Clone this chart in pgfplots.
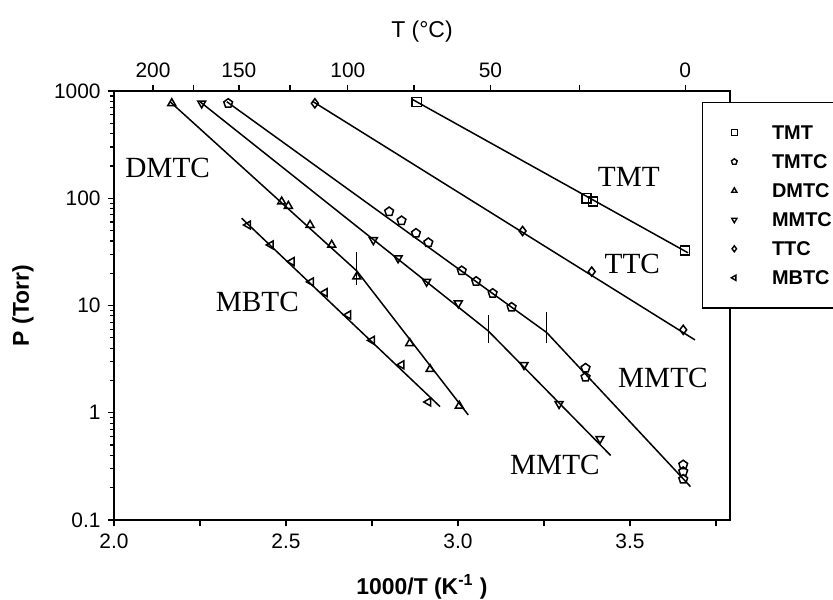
\documentclass[border=0pt]{standalone}
\usepackage{fontspec}
\setmainfont{Liberation Sans}
\newfontfamily\seriffont{Liberation Serif}
\usepackage{pgfplots}
\pgfplotsset{compat=1.18}
\usetikzlibrary{plotmarks}
\newcommand{\lbl}{\seriffont\fontsize{14.7}{15}\selectfont}
\begin{document}
\begin{tikzpicture}
\begin{axis}[
  scale only axis, width=308bp, height=214.5bp,
  xmin=2, xmax=3.791, ymin=0.1, ymax=1000, ymode=log, log basis y=10,
  axis line style={line width=0.8bp},
  every tick/.style={black, line width=0.6bp},
  tick align=outside, major tick length=3.2bp, minor tick length=2bp,
  xtick pos=left, ytick pos=left,
  xtick={2,2.25,2.5,2.75,3,3.25,3.5,3.75},
  xticklabels={2.0,,2.5,,3.0,,3.5,},
  ytick={0.1,1,10,100,1000},
  yticklabels={0.1,1,10,100,1000},
  minor ytick={0.2,0.3,0.4,0.5,0.6,0.7,0.8,0.9,2,3,4,5,6,7,8,9,20,30,40,50,60,70,80,90,200,300,400,500,600,700,800,900},
  /pgf/number format/assume math mode=true,
  ticklabel style={font=\fontsize{10.5}{12}\selectfont},
  xlabel={\textbf{1000/T (K\textsuperscript{-1} )}},
  ylabel={\textbf{P (Torr)}},
  every axis x label/.style={at={(axis description cs:0.5,-0.156)},anchor=center,font=\fontsize{11.5}{13}\selectfont},
  every axis y label/.style={at={(axis description cs:-0.148,0.5)},rotate=90,anchor=center,font=\fontsize{11.5}{13}\selectfont},
  legend style={at={(rel axis cs:0.9545,0.9744)}, anchor=north west, draw=black, fill=white, line width=0.6bp,
    inner xsep=5bp, inner ysep=11bp, row sep=6.3bp, font=\bfseries\fontsize{10}{10}\selectfont,
    nodes={inner sep=0.5bp, text height=7.2bp, text depth=0bp, anchor=west, text width=50bp},
    /tikz/every odd column/.append style={column sep=8.5bp}},
  legend cell align=left,
  legend image code/.code={\path (0bp,-1bp) (20bp,1bp); \draw[#1, line width=0.7bp, mark size=1.5bp] plot coordinates {(10.5bp,0bp)};},
  mk/.style={only marks, black, line width=0.75bp, mark size=2.3bp},
]
% data points
\addplot[mk, mark=square] coordinates {(2.880,790) (3.374,100) (3.393,93) (3.660,32.5)};
\addlegendentry{TMT}
\addplot[mk, mark=pentagon] coordinates {(2.332,768) (2.800,75.0) (2.836,61.8) (2.878,47.2) (2.914,38.6) (3.011,21.1) (3.053,16.8) (3.101,13.0) (3.156,9.64) (3.371,2.61) (3.371,2.15) (3.655,0.327) (3.655,0.283) (3.655,0.240)};
\addlegendentry{TMTC}
\addplot[mk, mark=triangle] coordinates {(2.168,768) (2.4875,92.9) (2.507,84.7) (2.570,56.3) (2.633,36.7) (2.706,18.6) (2.860,4.45) (2.919,2.55) (3.004,1.16)};
\addlegendentry{DMTC}
\addplot[mk, mark=triangle, mark options={rotate=180}] coordinates {(2.255,768) (2.754,40.8) (2.826,27.6) (2.909,16.7) (3.001,10.5) (3.192,2.79) (3.294,1.21) (3.413,0.571)};
\addlegendentry{MMTC}
\addplot[mk, mark=diamond] coordinates {(2.584,768) (3.188,49.5) (3.389,20.7) (3.655,5.93)};
\addlegendentry{TTC}
\addplot[mk, mark=triangle, mark options={rotate=90}] coordinates {(2.390,56.3) (2.456,36.7) (2.517,25.7) (2.573,16.6) (2.613,13.2) (2.681,8.17) (2.750,4.73) (2.836,2.80) (2.914,1.26)};
\addlegendentry{MBTC}
% fitted lines
\addplot[black, line width=0.75bp, forget plot] coordinates {(2.866,840) (3.669,31)};
\addplot[black, line width=0.75bp, forget plot] coordinates {(2.579,795) (3.689,4.78)};
\addplot[black, line width=0.75bp, forget plot] coordinates {(2.328,795) (3.258,5.6) (3.676,0.205)};
\addplot[black, line width=0.75bp, forget plot] coordinates {(2.250,795) (3.088,5.8) (3.444,0.40)};
\addplot[black, line width=0.75bp, forget plot] coordinates {(2.163,795) (2.706,21) (3.030,0.955)};
\addplot[black, line width=0.75bp, forget plot] coordinates {(2.371,65.2) (2.948,1.14)};
% melting point markers
\addplot[black, line width=0.6bp, forget plot] coordinates {(2.706,31.8) (2.706,15.6)};
\addplot[black, line width=0.6bp, forget plot] coordinates {(3.088,8.16) (3.088,4.48)};
\addplot[black, line width=0.6bp, forget plot] coordinates {(3.258,8.72) (3.258,4.48)};
% labels
\node[font=\lbl] at (axis cs:2.156,190) {DMTC};
\node[font=\lbl] at (axis cs:3.497,159) {TMT};
\node[font=\lbl] at (axis cs:3.507,24.4) {TTC};
\node[font=\lbl] at (axis cs:2.417,10.9) {MBTC};
\node[font=\lbl] at (axis cs:3.596,2.11) {MMTC};
\node[font=\lbl] at (axis cs:3.282,0.327) {MMTC};
\end{axis}
\begin{axis}[
  scale only axis, width=308bp, height=214.5bp,
  xmin=2, xmax=3.791, ymin=0, ymax=1,
  axis x line*=top, axis y line=none,
  axis line style={line width=0.8bp, -},
  every tick/.style={black, line width=0.6bp},
  tick align=outside, major tick length=3.2bp,
  xtick={2.11349,2.23139,2.36323,2.51162,2.67989,2.87232,3.09454,3.35402,3.66099},
  xticklabels={200,,150,,100,,50,,0},
  ticklabel style={font=\fontsize{10.5}{12}\selectfont},
  xlabel={T (°C)},
  every axis x label/.style={at={(axis description cs:0.5,1.1375)},anchor=center,font=\fontsize{11.5}{13}\selectfont},
]
\end{axis}
\pgfresetboundingbox
\useasboundingbox (-57bp,-40bp) rectangle (359.5bp,260bp);
\end{tikzpicture}
\end{document}
